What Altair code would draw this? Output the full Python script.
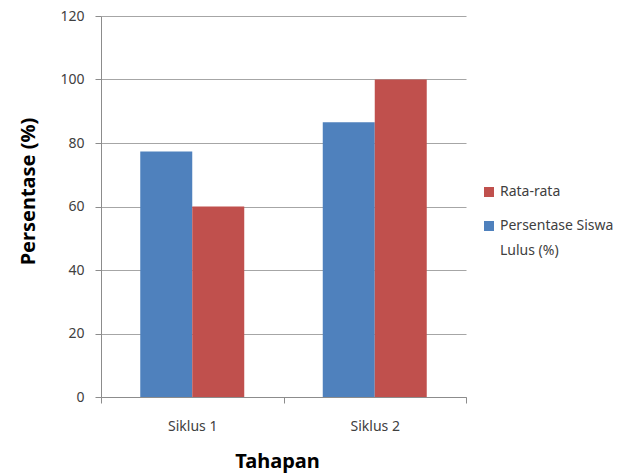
import altair as alt
import pandas as pd

categories = ["Siklus 1", "Siklus 2"]
series = ["Persentase Siswa Lulus (%)", "Rata-rata"]
persentase_lulus = [77.3, 86.5]
rata_rata = [60, 100]
y_ticks = [0, 20, 40, 60, 80, 100, 120]

rows = []
for i, c in enumerate(categories):
    rows.append({"Tahapan": c, "Seri": series[0], "Nilai": persentase_lulus[i]})
    rows.append({"Tahapan": c, "Seri": series[1], "Nilai": rata_rata[i]})
df = pd.DataFrame(rows)

font = "Noto Sans"
axis_gray = "#8C8C8C"
label_color = "#404040"

chart = alt.Chart(df).mark_bar().encode(
    x=alt.X(
        "Tahapan:N",
        sort=categories,
        scale=alt.Scale(paddingInner=0, paddingOuter=0),
        axis=alt.Axis(
            title="Tahapan",
            labelAngle=0,
            tickBand="extent",
            tickSize=6,
            tickColor=axis_gray,
            domainColor=axis_gray,
            labelPadding=16,
            labelFont=font,
            labelFontSize=14,
            labelColor=label_color,
            titleFont=font,
            titleFontSize=20,
            titleFontWeight="bold",
            titleColor="#000000",
            titleX=176,
            titleY=64,
            titleBaseline="middle",
            titleAlign="center",
            grid=False,
        ),
    ),
    xOffset=alt.XOffset(
        "Seri:N", sort=series, scale=alt.Scale(paddingInner=0, paddingOuter=0.755)
    ),
    y=alt.Y(
        "Nilai:Q",
        scale=alt.Scale(domain=[0, 120]),
        axis=alt.Axis(
            title="Persentase (%)",
            values=y_ticks,
            tickSize=6,
            tickColor=axis_gray,
            domainColor=axis_gray,
            gridColor="#A6A6A6",
            gridWidth=1.2,
            labelPadding=11,
            labelFont=font,
            labelFontSize=14,
            labelColor=label_color,
            titleFont=font,
            titleFontSize=20,
            titleFontWeight="bold",
            titleColor="#000000",
            titleX=-73,
            titleY=175,
            titleAngle=-90,
            titleBaseline="middle",
            titleAlign="center",
        ),
    ),
    color=alt.Color(
        "Seri:N",
        scale=alt.Scale(
            domain=["Rata-rata", "Persentase Siswa Lulus (%)"],
            range=["#C0504D", "#4F81BD"],
        ),
        legend=alt.Legend(
            title=None,
            orient="none",
            legendX=381,
            legendY=169,
            symbolType="square",
            symbolSize=100,
            symbolStrokeWidth=0,
            labelFont=font,
            labelFontSize=14,
            labelColor=label_color,
            rowPadding=20,
            labelLimit=200,
            labelExpr="datum.label == 'Persentase Siswa Lulus (%)' ? ['Persentase Siswa', 'Lulus (%)'] : datum.label",
        ),
    ),
).properties(
    width=365,
    height=381,
    autosize=alt.AutoSizeParams(type="none"),
    padding={"left": 93, "top": 8, "right": 170, "bottom": 80},
).configure(
    style={"guide-label": {"lineHeight": 25}}
).configure_view(strokeWidth=0)

chart.save("out.html", embed_options={"renderer": "svg", "actions": False})
